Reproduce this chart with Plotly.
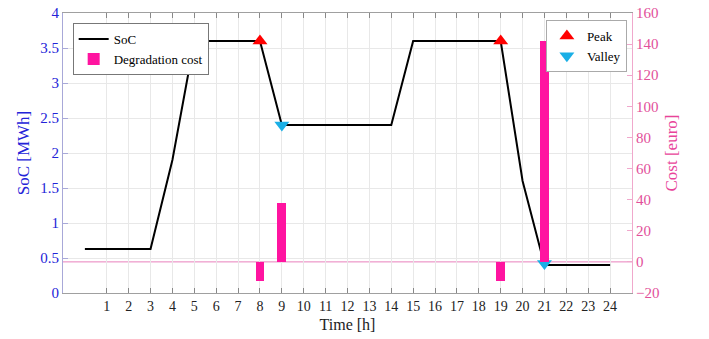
import plotly.graph_objects as go

hours = list(range(0, 25))
soc = [0.63, 0.63, 0.63, 0.63, 1.9, 3.6, 3.6, 3.6, 3.6, 2.4, 2.4, 2.4, 2.4, 2.4, 2.4,
       3.6, 3.6, 3.6, 3.6, 3.6, 1.6, 0.4, 0.4, 0.4, 0.4]
cost_hours = [8, 9, 19, 21]
cost_values = [-12, 38, -12, 142]
peak_hours = [8, 19]
peak_soc = [3.6, 3.6]
valley_hours = [9, 21]
valley_soc = [2.4, 0.42]
xtick_vals = list(range(1, 25))

FONT = "Liberation Serif, Times New Roman, serif"
BLUE = "#2323D8"
PINK_TXT = "#E2509A"
PINK_BAR = "#FF14A0"

fig = go.Figure()
fig.add_trace(go.Bar(x=cost_hours, y=cost_values, width=0.4, marker_color=PINK_BAR,
                     marker_line_width=0, name="Degradation cost", yaxis="y2",
                     legend="legend"))
fig.add_trace(go.Scatter(x=hours, y=soc, mode="lines", line=dict(color="black", width=2),
                         name="SoC", legend="legend"))
fig.add_trace(go.Scatter(x=peak_hours, y=peak_soc, mode="markers",
                         marker=dict(symbol="triangle-up", color="#FF0000", size=13),
                         name="Peak", legend="legend2"))
fig.add_trace(go.Scatter(x=valley_hours, y=valley_soc, mode="markers",
                         marker=dict(symbol="triangle-down", color="#1AAFE6", size=13),
                         name="Valley", legend="legend2"))

# zero reference line of the cost axis
fig.add_shape(type="line", xref="paper", x0=0, x1=1, yref="y2", y0=0, y1=0,
              line=dict(color="#E880BC", width=1), layer="below")

fig.update_layout(
    width=709, height=339,
    margin=dict(l=63, r=77, t=13, b=46, autoexpand=False),
    plot_bgcolor="white", paper_bgcolor="white",
    font=dict(family=FONT, size=14, color="black"),
    bargap=0,
    xaxis=dict(range=[-1, 25], tickvals=xtick_vals, ticks="inside", ticklen=5,
               tickcolor="#888888", showline=True, linecolor="#A0A0A0", mirror="ticks",
               showgrid=True, gridcolor="#E8E8E8", zeroline=False, automargin=False,
               ticklabeloverflow="allow",
               tickfont=dict(family=FONT, size=14, color="#222222"),
               title=dict(text="Time [h]", font=dict(family=FONT, size=16, color="#222222"),
                          standoff=6)),
    yaxis=dict(range=[0, 4], dtick=0.5, ticks="inside", ticklen=5, tickcolor="#A8A8D8",
               showline=True, linecolor="#A8A8D8", showgrid=True, gridcolor="#E8E8E8",
               zeroline=False, automargin=False, ticklabeloverflow="allow",
               tickfont=dict(family=FONT, size=15, color=BLUE),
               title=dict(text="SoC [MWh]", font=dict(family=FONT, size=17, color=BLUE),
                          standoff=6)),
    yaxis2=dict(range=[-20, 160], dtick=20, overlaying="y", side="right", ticks="inside",
                ticklen=5, tickcolor="#F0A8CC", showline=True, linecolor="#F0A8CC",
                showgrid=False, zeroline=False,
                automargin=False, ticklabeloverflow="allow",
                tickfont=dict(family=FONT, size=15, color=PINK_TXT),
                title=dict(text="Cost [euro]", font=dict(family=FONT, size=17, color="#E8449A"),
                           standoff=6)),
    legend=dict(x=0.017, y=0.964, xanchor="left", yanchor="top", bgcolor="white",
                bordercolor="#777777", borderwidth=1, traceorder="reversed",
                font=dict(family=FONT, size=13, color="black"), tracegroupgap=0,
                itemwidth=30),
    legend2=dict(x=0.991, y=0.975, xanchor="right", yanchor="top", bgcolor="white",
                 bordercolor="#AAAAAA", borderwidth=1,
                 font=dict(family=FONT, size=13, color="black"), tracegroupgap=0,
                 itemwidth=30),
    showlegend=True,
)

fig.write_html("out.html", config={"displayModeBar": False},
               post_script="document.body.style.margin='0px';")
